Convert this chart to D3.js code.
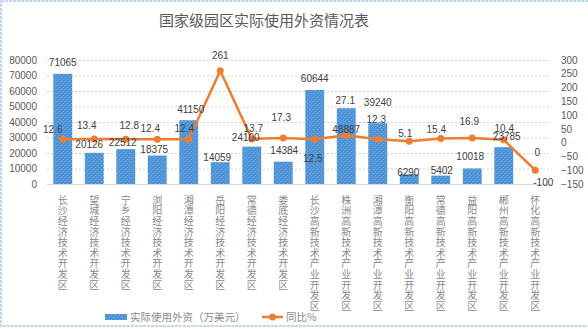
<!DOCTYPE html>
<html><head><meta charset="utf-8">
<script src="https://cdn.jsdelivr.net/npm/d3@7"></script>
<style>body{margin:0;background:#fff;}svg{display:block;}</style>
</head><body>
<svg id="c" width="588" height="329"></svg>
<script>
// ---- data ----
const title = "国家级园区实际使用外资情况表";
const categories = ["长沙经济技术开发区","望城经济技术开发区","宁乡经济技术开发区","浏阳经济技术开发区","湘潭经济技术开发区","岳阳经济技术开发区","常德经济技术开发区","娄底经济技术开发区","长沙高新技术产业开发区","株洲高新技术产业开发区","湘潭高新技术产业开发区","衡阳高新技术产业开发区","常德高新技术产业开发区","益阳高新技术产业开发区","郴州高新技术产业开发区","怀化高新技术产业开发区"];
const foreignCapital = [71065,20126,22512,18375,41150,14059,24100,14384,60644,48887,39240,6290,5402,10018,23785,0];
const yoyPercent = [12.6,13.4,12.8,12.4,12.4,261,13.7,17.3,12.5,27.1,12.3,5.1,15.4,16.9,10.4,-100];
const leftTicks = [0,10000,20000,30000,40000,50000,60000,70000,80000];
const rightTicks = [-150,-100,-50,0,50,100,150,200,250,300];
const seriesNames = ["实际使用外资（万美元）","同比%"];

// ---- layout: label nudges (dx, dy) relative to default placement ----
const barLabelNudge = [[0,-3],[-5,0],[-3,1],[-3,1.5],[2,-3],[-3,3],[-6,-1.5],[1,-3.5],[0,-4],[0,29],[0,-13],[-1,6],[1,2.5],[-2,-3.5],[3,-3],[2,-24]];
const lineLabelNudge = [[-10,1.5],[-7.5,-2],[3.5,-2.5],[-7,0.4],[-4.5,0.4],[0,-4],[1.5,1],[-2,-9],[-2,30.5],[-1,-23.6],[-1.5,-8.6],[-4,3.4],[-4.5,2.2],[-3,-5.4],[0.5,0],[8,23.7]];

const svg = d3.select("#c");
const W = 588, H = 329;
const plot = {l:47, r:551, t:60, b:184};

// frame
svg.append("rect").attr("x",1).attr("y",1).attr("width",W+4).attr("height",325)
  .attr("fill","none").attr("stroke","#a8cdef").attr("stroke-width",1.5).attr("stroke-dasharray","3,1");

// pattern for bars
const defs = svg.append("defs");
const pat = defs.append("pattern").attr("id","dots").attr("width",4).attr("height",4).attr("patternUnits","userSpaceOnUse");
pat.append("rect").attr("width",4).attr("height",4).attr("fill","#5094d8");
pat.append("rect").attr("x",1).attr("y",1).attr("width",1).attr("height",1).attr("fill","#7cb1e4");
pat.append("rect").attr("x",3).attr("y",3).attr("width",1).attr("height",1).attr("fill","#6ca7e0");

const x = d3.scaleBand().domain(categories).range([plot.l, plot.r]).paddingInner(0.4).paddingOuter(0.2);
const yL = d3.scaleLinear().domain([0,80000]).range([plot.b, plot.t]);
const yR = d3.scaleLinear().domain([-150,300]).range([plot.b, plot.t]);
const cx = d => x(d) + x.bandwidth()/2;

// title
svg.append("text").attr("x",264).attr("y",26).attr("text-anchor","middle")
  .attr("font-family","'Noto Sans CJK SC'").attr("font-size",15).attr("fill","#595959").text(title);

// gridlines
svg.append("g").selectAll("line").data(leftTicks.filter(t=>t>0)).join("line")
  .attr("x1",plot.l).attr("x2",plot.r).attr("y1",d=>yL(d)+0.5).attr("y2",d=>yL(d)+0.5)
  .attr("stroke","#d4d4d4").attr("stroke-dasharray","2,2");
svg.append("line").attr("x1",plot.l).attr("x2",plot.r).attr("y1",plot.b+0.5).attr("y2",plot.b+0.5).attr("stroke","#d9d9d9");

// axes
const axL = d3.axisLeft(yL).tickValues(leftTicks).tickSize(0).tickPadding(0).tickFormat(d3.format("d"));
const gL = svg.append("g").attr("transform","translate(37,0)").call(axL);
const axR = d3.axisRight(yR).tickValues(rightTicks).tickSize(0).tickPadding(0).tickFormat(d3.format("d"));
const gR = svg.append("g").attr("transform","translate(561,0)").call(axR);
[gL,gR].forEach(g=>{
  g.select(".domain").remove();
  g.selectAll("text").attr("font-family","'Liberation Sans'").attr("font-size",10).attr("fill","#595959");
});

// bars
svg.append("g").selectAll("rect").data(categories).join("rect")
  .attr("x",d=>x(d)).attr("width",x.bandwidth())
  .attr("y",(d,i)=>yL(foreignCapital[i])).attr("height",(d,i)=>plot.b - yL(foreignCapital[i]))
  .attr("fill","url(#dots)");

// line
const line = d3.line().x((d,i)=>cx(categories[i])).y(d=>yR(d));
svg.append("path").datum(yoyPercent).attr("d",line).attr("fill","none")
  .attr("stroke","#ed7d31").attr("stroke-width",2.5).attr("stroke-linejoin","round");
svg.append("g").selectAll("circle").data(yoyPercent).join("circle")
  .attr("cx",(d,i)=>cx(categories[i])).attr("cy",d=>yR(d)).attr("r",3.5).attr("fill","#ed7d31");

// bar labels
svg.append("g").selectAll("text").data(foreignCapital).join("text")
  .attr("x",(d,i)=>cx(categories[i]) + barLabelNudge[i][0])
  .attr("y",(d,i)=>yL(d) - 8 + barLabelNudge[i][1])
  .attr("dy","0.35em").attr("text-anchor","middle")
  .attr("font-family","'Liberation Sans'").attr("font-size",10).attr("fill","#404040")
  .text(d=>d);

// line labels
svg.append("g").selectAll("text").data(yoyPercent).join("text")
  .attr("x",(d,i)=>cx(categories[i]) + lineLabelNudge[i][0])
  .attr("y",(d,i)=>yR(d) - 11 + lineLabelNudge[i][1])
  .attr("dy","0.35em").attr("text-anchor","middle")
  .attr("font-family","'Liberation Sans'").attr("font-size",10).attr("fill","#404040")
  .text(d=>d);

// x category labels (vertical, one glyph per text element)
const xg = svg.append("g");
categories.forEach(d=>{
  Array.from(d).forEach((ch,k)=>{
    xg.append("text")
      .attr("x",cx(d)).attr("y",195 + k*10.6)
      .attr("writing-mode","vertical-rl")
      .style("text-orientation","upright")
      .attr("font-family","'Noto Sans CJK SC'").attr("font-size",10).attr("fill","#8a8a8a")
      .text(ch);
  });
});

// legend
const lg = svg.append("g");
lg.append("rect").attr("x",105).attr("y",314).attr("width",22).attr("height",6).attr("fill","url(#dots)");
lg.append("text").attr("x",130).attr("y",321).attr("font-family","'Noto Sans CJK SC'").attr("font-size",10.5).attr("fill","#8a8a8a").text(seriesNames[0]);
lg.append("line").attr("x1",262).attr("x2",283).attr("y1",317).attr("y2",317).attr("stroke","#ed7d31").attr("stroke-width",2.5);
lg.append("circle").attr("cx",272.5).attr("cy",317).attr("r",3.5).attr("fill","#ed7d31");
lg.append("text").attr("x",286).attr("y",321).attr("font-family","'Noto Sans CJK SC'").attr("font-size",10.5).attr("fill","#8a8a8a").text(seriesNames[1]);
</script>
</body></html>
